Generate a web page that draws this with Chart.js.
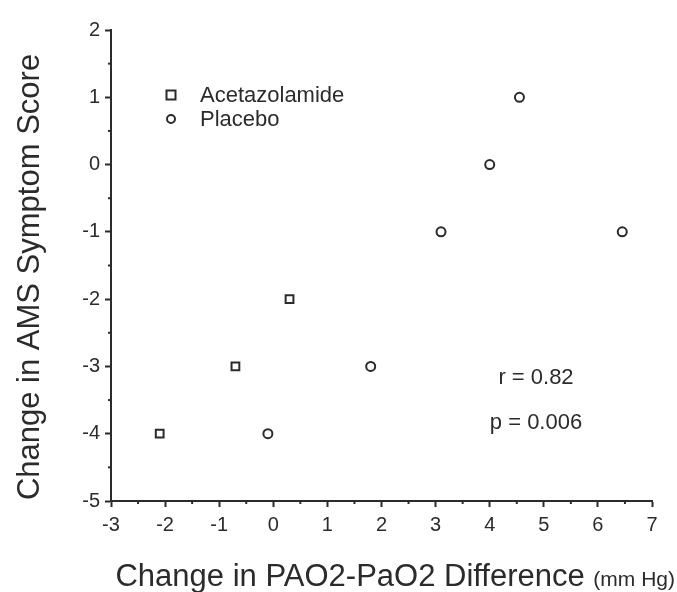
<!DOCTYPE html>
<html>
<head>
<meta charset="utf-8">
<script src="https://cdn.jsdelivr.net/npm/chart.js@4"></script>
<style>
  html, body { margin: 0; padding: 0; background: #fff; }
  #wrap { width: 677px; height: 592px; }
</style>
</head>
<body>
<div id="wrap"><canvas id="grafik" width="677" height="592"></canvas></div>
<script>
// data
const acetaX = [-2.1, -0.7, 0.3];
const acetaY = [-4, -3, -2];
const placeboX = [-0.1, 1.8, 3.1, 4.0, 4.55, 6.45];
const placeboY = [-4, -3, -1, 0, 1, -1];
const xMin = -3, xMax = 7;
const yMin = -5, yMax = 2;
const statTexts = ['r = 0.82', 'p = 0.006'];

const warnaTinta = '#2b2b2b';
const fontFamili = '"Liberation Sans", Arial, Helvetica, sans-serif';

function pasangan(xs, ys) {
    return xs.map((x, i) => ({ x: x, y: ys[i] }));
}

// draws minor ticks, axis titles, legend and the r/p note
const pluginHiasan = {
    id: 'hiasan',
    afterDraw(chart) {
        const ctx = chart.ctx;
        const sx = chart.scales.x;
        const sy = chart.scales.y;
        const area = chart.chartArea;
        ctx.save();
        ctx.strokeStyle = warnaTinta;
        ctx.lineWidth = 2;

        // minor ticks at half units
        for (let v = xMin + 0.5; v < xMax; v += 1) {
            const px = sx.getPixelForValue(v);
            ctx.beginPath();
            ctx.moveTo(px, area.bottom);
            ctx.lineTo(px, area.bottom + 3);
            ctx.stroke();
        }
        for (let v = yMin + 0.5; v < yMax; v += 1) {
            const py = sy.getPixelForValue(v);
            ctx.beginPath();
            ctx.moveTo(area.left, py);
            ctx.lineTo(area.left - 3, py);
            ctx.stroke();
        }

        ctx.fillStyle = warnaTinta;

        // y title
        ctx.save();
        ctx.translate(30, 277);
        ctx.rotate(-Math.PI / 2);
        ctx.textAlign = 'center';
        ctx.textBaseline = 'middle';
        ctx.font = '31px ' + fontFamili;
        ctx.fillText('Change in AMS Symptom Score', 0, 0);
        ctx.restore();

        // x title with smaller unit
        ctx.textBaseline = 'alphabetic';
        ctx.textAlign = 'left';
        ctx.font = '31px ' + fontFamili;
        const judul = 'Change in PAO2-PaO2 Difference ';
        const wJudul = ctx.measureText(judul).width;
        ctx.font = '21px ' + fontFamili;
        const satuan = '(mm Hg)';
        const wSatuan = ctx.measureText(satuan).width;
        const xAwal = 675 - wJudul - wSatuan;
        ctx.font = '31px ' + fontFamili;
        ctx.fillText(judul, xAwal, 586);
        ctx.font = '21px ' + fontFamili;
        ctx.fillText(satuan, xAwal + wJudul, 586);

        // legend
        const legenda = chart.data.datasets;
        const legX = 171, legY = [95, 119];
        legenda.forEach((ds, i) => {
            ctx.lineWidth = 2;
            ctx.strokeStyle = warnaTinta;
            ctx.beginPath();
            if (ds.pointStyle === 'rect') {
                ctx.rect(legX - 4.5, legY[i] - 4.5, 9, 9);
            } else {
                ctx.arc(legX, legY[i], 4, 0, Math.PI * 2);
            }
            ctx.stroke();
            ctx.font = '22px ' + fontFamili;
            ctx.textAlign = 'left';
            ctx.textBaseline = 'middle';
            ctx.fillText(ds.label, 200, legY[i] + 1);
        });

        // stats note
        ctx.font = '22px ' + fontFamili;
        ctx.textAlign = 'center';
        ctx.textBaseline = 'middle';
        ctx.fillText(statTexts[0], 536, 378);
        ctx.fillText(statTexts[1], 536, 423);

        ctx.restore();
    }
};

const ctx = document.getElementById('grafik').getContext('2d');

const grafik = new Chart(ctx, {
    type: 'scatter',
    data: {
        datasets: [{
            label: 'Acetazolamide',
            data: pasangan(acetaX, acetaY),
            pointStyle: 'rect',
            pointRadius: 5.5,
            borderWidth: 2,
            borderColor: warnaTinta,
            backgroundColor: '#fff'
        }, {
            label: 'Placebo',
            data: pasangan(placeboX, placeboY),
            pointStyle: 'circle',
            pointRadius: 4.5,
            borderWidth: 2,
            borderColor: warnaTinta,
            backgroundColor: '#fff'
        }]
    },
    options: {
        responsive: false,
        animation: false,
        layout: { padding: { top: 30, right: 25, left: 0, bottom: 0 } },
        plugins: {
            legend: { display: false },
            tooltip: { enabled: false }
        },
        scales: {
            x: {
                type: 'linear',
                min: xMin,
                max: xMax,
                ticks: {
                    stepSize: 1,
                    color: warnaTinta,
                    font: { family: fontFamili, size: 20 },
                    padding: 6
                },
                grid: {
                    drawOnChartArea: false,
                    tickLength: 6,
                    tickWidth: 2,
                    tickColor: warnaTinta
                },
                border: { color: warnaTinta, width: 2 },
                afterFit(scale) { scale.height = 91; }
            },
            y: {
                type: 'linear',
                min: yMin,
                max: yMax,
                ticks: {
                    stepSize: 1,
                    color: warnaTinta,
                    font: { family: fontFamili, size: 20 },
                    padding: 5
                },
                grid: {
                    drawOnChartArea: false,
                    tickLength: 6,
                    tickWidth: 2,
                    tickColor: warnaTinta
                },
                border: { color: warnaTinta, width: 2 },
                afterFit(scale) { scale.width = 111; }
            }
        }
    },
    plugins: [pluginHiasan]
});
</script>
</body>
</html>
